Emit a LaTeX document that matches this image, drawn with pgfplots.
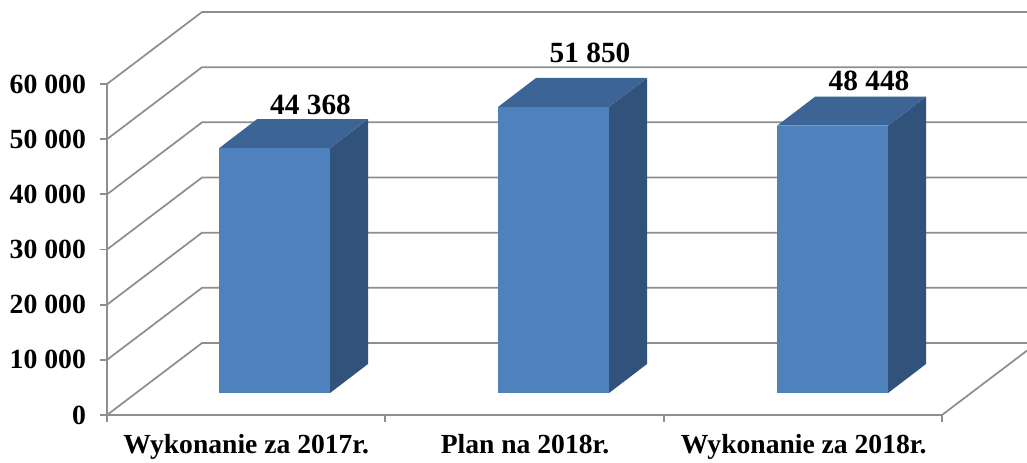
\documentclass[border=0pt]{standalone}
\usepackage{pgfplots}
\pgfplotsset{compat=1.18}
\usepackage{pgfplotstable}
\usepackage{fontspec}
\setmainfont{Liberation Serif}
\definecolor{front}{HTML}{4F81BD}
\definecolor{sidef}{HTML}{31527A}
\definecolor{topf}{HTML}{3C6494}
\definecolor{wall}{HTML}{8E8E8E}
\pgfplotstableread{
x v dy
310.5 44368 11893
590 51850 13849
869 48448 12169
}\labeltable
\pgfplotsset{table/barface/.style={x expr=\thisrow{x}+38*\thisrow{d}, y expr=\thisrow{y}+3988+5257*\thisrow{d}, row sep=\\}}
\begin{document}
\begin{tikzpicture}
\useasboundingbox (0,0) rectangle (770.25pt,346.5pt);
\begin{axis}[
  at={(80.25pt,35.25pt)}, anchor=south west,
  scale only axis, width=626.25pt, height=248.25pt,
  xmin=107, xmax=942, ymin=0, ymax=60000, clip=false,
  axis x line*=bottom, axis y line*=left,
  axis line style={wall, line width=1.3pt, -},
  tick style={wall, line width=1.3pt},
  tick align=outside,
  ytick={0,10000,20000,30000,40000,50000,60000},
  xtick={246.3,525,803.7},
  xticklabels={Wykonanie za 2017r.,Plan na 2018r.,Wykonanie za 2018r.},
  minor xtick={107,385.3,663.7,942},
  major tick length=5.25pt, minor tick length=5.25pt,
  x tick style={draw=none},
  minor x tick style={wall, line width=1.3pt, draw=wall},
  /pgf/number format/assume math mode=true,
  /pgf/number format/1000 sep={\ },
  scaled y ticks=false,
  y tick label style={font=\fontsize{20.8}{20.8}\selectfont\bfseries, xshift=-7pt},
  x tick label style={font=\fontsize{20.7}{22}\selectfont\bfseries, yshift=-6pt},
]
% walls
\addplot[wall, line width=1.3pt, forget plot] coordinates {(107,0)(202,13051)(1027,13051)};
\addplot[wall, line width=1.3pt, forget plot] coordinates {(107,10000)(202,23051)(1027,23051)};
\addplot[wall, line width=1.3pt, forget plot] coordinates {(107,20000)(202,33051)(1027,33051)};
\addplot[wall, line width=1.3pt, forget plot] coordinates {(107,30000)(202,43051)(1027,43051)};
\addplot[wall, line width=1.3pt, forget plot] coordinates {(107,40000)(202,53051)(1027,53051)};
\addplot[wall, line width=1.3pt, forget plot] coordinates {(107,50000)(202,63051)(1027,63051)};
\addplot[wall, line width=1.3pt, forget plot] coordinates {(107,60000)(202,73051)(1027,73051)};
\addplot[wall, line width=1.3pt, forget plot] coordinates {(942,0)(1027,11677)};
% bar 1
\addplot[fill=front, draw=none, forget plot] table[barface] {x y d\\219 0 0\\330 0 0\\330 44368 0\\219 44368 0\\};
\addplot[fill=sidef, draw=none, forget plot] table[barface] {x y d\\330 0 0\\330 0 1\\330 44368 1\\330 44368 0\\};
\addplot[fill=topf, draw=none, forget plot] table[barface] {x y d\\219 44368 0\\330 44368 0\\330 44368 1\\219 44368 1\\};
% bar 2
\addplot[fill=front, draw=none, forget plot] table[barface] {x y d\\498 0 0\\609 0 0\\609 51850 0\\498 51850 0\\};
\addplot[fill=sidef, draw=none, forget plot] table[barface] {x y d\\609 0 0\\609 0 1\\609 51850 1\\609 51850 0\\};
\addplot[fill=topf, draw=none, forget plot] table[barface] {x y d\\498 51850 0\\609 51850 0\\609 51850 1\\498 51850 1\\};
% bar 3
\addplot[fill=front, draw=none, forget plot] table[barface] {x y d\\777 0 0\\888 0 0\\888 48448 0\\777 48448 0\\};
\addplot[fill=sidef, draw=none, forget plot] table[barface] {x y d\\888 0 0\\888 0 1\\888 48448 1\\888 48448 0\\};
\addplot[fill=topf, draw=none, forget plot] table[barface] {x y d\\777 48448 0\\888 48448 0\\888 48448 1\\777 48448 1\\};
% labels
\addplot[draw=none, mark=none, forget plot, point meta=explicit,
  nodes near coords={\pgfmathprintnumber[assume math mode=true,1000 sep={\ }]{\pgfplotspointmeta}},
  every node near coord/.append style={anchor=center, font=\fontsize{22}{22}\selectfont\bfseries, text=black}]
  table[x=x, y expr=\thisrow{v}+\thisrow{dy}, meta=v] {\labeltable};
\end{axis}
\end{tikzpicture}
\end{document}
